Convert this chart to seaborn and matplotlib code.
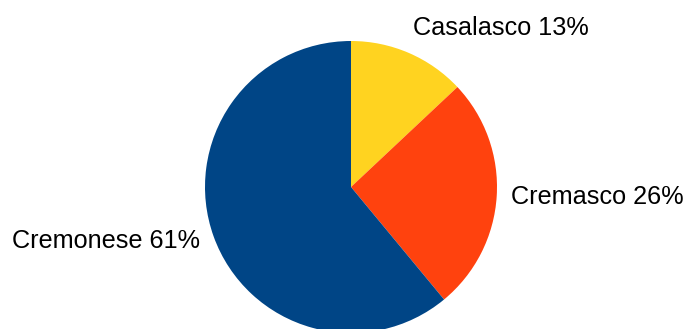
import matplotlib
matplotlib.use("Agg")
import matplotlib.pyplot as plt
import seaborn as sns

districts = ["Casalasco", "Cremasco", "Cremonese"]
shares = [13, 26, 61]
colors = ["#FFD320", "#FF420E", "#004586"]

sns.set_theme(style="white")
plt.rcParams['font.family'] = ['Liberation Sans', 'DejaVu Sans']

fig = plt.figure(figsize=(6.86, 3.29), dpi=100)
ax = fig.add_axes([0, 0, 1, 1])

labels = [f"{d} {s}%" for d, s in zip(districts, shares)]
wedges, texts = ax.pie(shares, labels=labels, colors=sns.color_palette(colors),
                       startangle=90, counterclock=False, labeldistance=1.1,
                       textprops={'fontsize': 18.2, 'color': 'black'},
                       wedgeprops={'linewidth': 0})

# push the small slice label up a bit, as in the original
x, y = texts[0].get_position()
texts[0].set_position((x * 0.97, y * 1.08))

r = 146.0
ax.set_xlim(-351 / r, (686 - 351) / r)
ax.set_ylim(-(329 - 187) / r, 187 / r)
ax.set_aspect('auto')
ax.axis('off')

fig.savefig("out.png", dpi=100)
